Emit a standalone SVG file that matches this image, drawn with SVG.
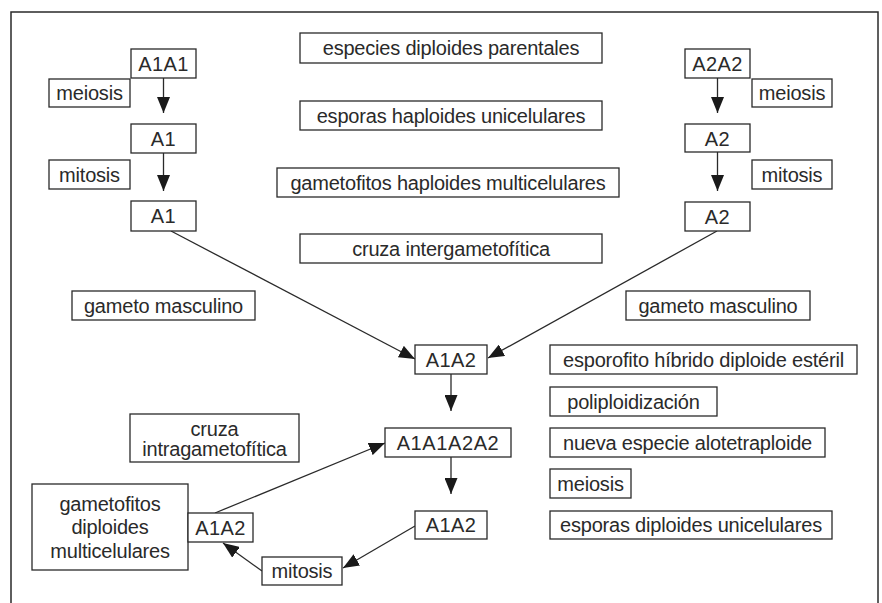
<svg xmlns="http://www.w3.org/2000/svg" width="882" height="603" viewBox="0 0 882 603">
<style>
rect.b{fill:#fff;stroke:#2a2a2a;stroke-width:1.3}
text{font-family:"Liberation Sans",Arial,sans-serif;font-size:20px;fill:#2a2a2a;text-anchor:middle;letter-spacing:-0.2px}
text.g{letter-spacing:0.4px}
text.g8{letter-spacing:0.6px}
.c line{stroke:#2a2a2a;stroke-width:1.3;fill:none}
</style>
<defs>
<marker id="ah" markerUnits="userSpaceOnUse" markerWidth="17" markerHeight="13" refX="16" refY="6.5" orient="auto">
<path d="M0,0 L16,6.5 L0,13 z" fill="#1a1a1a"/>
</marker>
</defs>
<rect x="11" y="12" width="867" height="610" fill="#fff" stroke="#2a2a2a" stroke-width="1.5"/>
<g class="c">
<line x1="163.5" y1="78" x2="163.5" y2="113" marker-end="url(#ah)"/>
<line x1="163.5" y1="153" x2="163.5" y2="191" marker-end="url(#ah)"/>
<line x1="717.5" y1="78" x2="717.5" y2="113" marker-end="url(#ah)"/>
<line x1="717.5" y1="152" x2="717.5" y2="191" marker-end="url(#ah)"/>
<line x1="171" y1="231" x2="415" y2="359" marker-end="url(#ah)"/>
<line x1="717" y1="231" x2="488" y2="358" marker-end="url(#ah)"/>
<line x1="451" y1="374" x2="451" y2="411" marker-end="url(#ah)"/>
<line x1="451" y1="457" x2="451" y2="494" marker-end="url(#ah)"/>
<line x1="415" y1="526" x2="343" y2="568" marker-end="url(#ah)"/>
<line x1="262" y1="571" x2="223" y2="543" marker-end="url(#ah)"/>
<line x1="215" y1="513" x2="385" y2="443" marker-end="url(#ah)"/>
</g>
<g id="a1a1"><rect class="b" x="131" y="49" width="65" height="29"/><text class="g" x="163.5" y="71">A1A1</text></g>
<g id="meiosisL"><rect class="b" x="49" y="79" width="81" height="28"/><text x="89.5" y="100">meiosis</text></g>
<g id="a1top"><rect class="b" x="131" y="124" width="65" height="29"/><text class="g" x="163.5" y="146">A1</text></g>
<g id="mitosisL"><rect class="b" x="49" y="160" width="81" height="29"/><text x="89.5" y="182">mitosis</text></g>
<g id="a1bot"><rect class="b" x="131" y="201" width="65" height="30"/><text class="g" x="163.5" y="223">A1</text></g>
<g id="especies"><rect class="b" x="300" y="33" width="302" height="30"/><text x="451" y="55">especies diploides parentales</text></g>
<g id="esporasHap"><rect class="b" x="300" y="101" width="302" height="29"/><text x="451" y="123">esporas haploides unicelulares</text></g>
<g id="gametofitosHap"><rect class="b" x="277" y="168" width="342" height="29"/><text x="448" y="190">gametofitos haploides multicelulares</text></g>
<g id="cruzaInter"><rect class="b" x="300" y="234" width="302" height="29"/><text x="451" y="256">cruza intergametofítica</text></g>
<g id="a2a2"><rect class="b" x="685" y="49" width="65" height="29"/><text class="g" x="717.5" y="71">A2A2</text></g>
<g id="meiosisR"><rect class="b" x="752" y="79" width="80" height="28"/><text x="792" y="100">meiosis</text></g>
<g id="a2top"><rect class="b" x="685" y="124" width="65" height="28"/><text class="g" x="717.5" y="146">A2</text></g>
<g id="mitosisR"><rect class="b" x="752" y="160" width="80" height="29"/><text x="792" y="182">mitosis</text></g>
<g id="a2bot"><rect class="b" x="685" y="202" width="65" height="29"/><text class="g" x="717.5" y="224">A2</text></g>
<g id="gametoL"><rect class="b" x="72" y="291" width="183" height="29"/><text x="163.5" y="313">gameto masculino</text></g>
<g id="gametoR"><rect class="b" x="626" y="291" width="184" height="29"/><text x="718" y="313">gameto masculino</text></g>
<g id="a1a2hyb"><rect class="b" x="415" y="345" width="72" height="29"/><text class="g" x="451" y="367">A1A2</text></g>
<g id="esporofito"><rect class="b" x="550" y="345" width="307" height="29"/><text x="703.5" y="367">esporofito híbrido diploide estéril</text></g>
<g id="poliploid"><rect class="b" x="550" y="387" width="167" height="29"/><text x="633.5" y="409">poliploidización</text></g>
<g id="a1a1a2a2"><rect class="b" x="385" y="428" width="126" height="29"/><text class="g8" x="448" y="450">A1A1A2A2</text></g>
<g id="nueva"><rect class="b" x="550" y="428" width="275" height="29"/><text x="687.5" y="450">nueva especie alotetraploide</text></g>
<g id="meiosisC"><rect class="b" x="550" y="469" width="81" height="29"/><text x="590.5" y="491">meiosis</text></g>
<g id="a1a2low"><rect class="b" x="415" y="511" width="72" height="28"/><text class="g" x="451" y="532">A1A2</text></g>
<g id="esporasDip"><rect class="b" x="550" y="511" width="282" height="28"/><text x="691" y="532">esporas diploides unicelulares</text></g>
<g id="cruzaIntra"><rect class="b" x="130" y="414" width="169" height="48"/><text x="214.5" y="436">cruza</text><text x="214.5" y="456">intragametofítica</text></g>
<g id="gametofitosDip"><rect class="b" x="32" y="484" width="156" height="86"/><text x="110" y="511">gametofitos</text><text x="110" y="534">diploides</text><text x="110" y="558">multicelulares</text></g>
<g id="a1a2small"><rect class="b" x="188" y="513" width="65" height="29"/><text class="g" x="220.5" y="535">A1A2</text></g>
<g id="mitosisB"><rect class="b" x="262" y="557" width="80" height="28"/><text x="302" y="578">mitosis</text></g>
</svg>
